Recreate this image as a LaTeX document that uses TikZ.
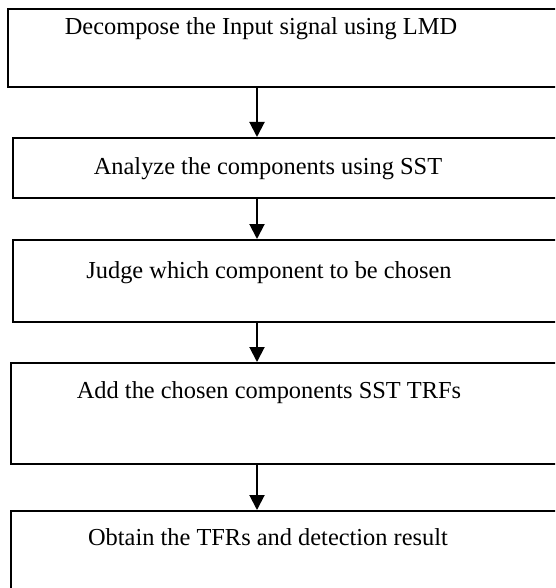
\documentclass[tikz,border=0pt]{standalone}
\usepackage{fontspec}
\setmainfont{Liberation Serif}
\usetikzlibrary{arrows.meta, positioning}
\tikzset{
    stepbox/.style={draw, line width=1.6pt, anchor=north west,
                    minimum width=580pt, inner sep=0pt},
    steptext/.style={anchor=base, inner sep=0pt,
                     font=\fontsize{24.4}{28}\selectfont},
    flow/.style={-{Triangle[width=15pt, length=15pt]}, line width=2pt},
}

\begin{document}
\begin{tikzpicture}[x=1pt, y=-1pt]
    \useasboundingbox (0,0) rectangle (555,588);
    \clip (0,0) rectangle (555,588);
    % steps
    \node[stepbox, minimum height=78pt]  (lmd)    at (7,8)    {};
    \node[stepbox, minimum height=60pt]  (sst)    at (12,137) {};
    \node[stepbox, minimum height=82pt]  (judge)  at (12,239) {};
    \node[stepbox, minimum height=101pt] (add)    at (10,362) {};
    \node[stepbox, minimum height=110pt] (result) at (10,510) {};
    % labels
    \node[steptext] (lmdtext)    at (261,35)  {Decompose the Input signal using LMD};
    \node[steptext] (ssttext)    at (268,174) {Analyze the components using SST};
    \node[steptext] (judgetext)  at (269,278) {Judge which component to be chosen};
    \node[steptext] (addtext)    at (269,398) {Add the chosen components SST TRFs};
    \node[steptext] (resulttext) at (268,545) {Obtain the TFRs and detection result};
    % arrows
    \draw[flow] ([xshift=250pt]lmd.south west)   -- ([xshift=245pt]sst.north west);
    \draw[flow] ([xshift=245pt]sst.south west)   -- ([xshift=245pt]judge.north west);
    \draw[flow] ([xshift=245pt]judge.south west) -- ([xshift=247pt]add.north west);
    \draw[flow] ([xshift=247pt]add.south west)   -- ([xshift=247pt]result.north west);
\end{tikzpicture}
\end{document}
